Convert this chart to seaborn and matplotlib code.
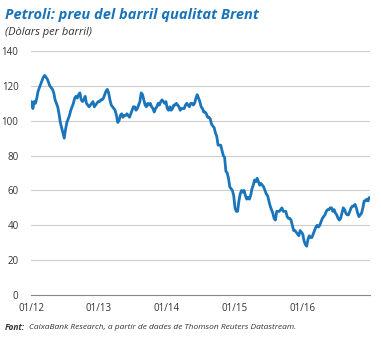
import pandas as pd
import matplotlib
matplotlib.use("Agg")
import matplotlib.pyplot as plt
import matplotlib.dates as mdates
import seaborn as sns

# Weekly Brent price (USD per barrel)
p2012 = [111, 107, 111, 110, 113, 117, 119, 121, 123, 125, 126, 125, 124,
         122, 120, 119, 118, 116, 112, 110, 108, 104, 99, 96, 93, 90,
         95, 99, 101, 103, 106, 108, 110, 113, 114, 113, 115, 116, 112,
         111, 112, 114, 110, 109, 108, 109, 110, 111, 108, 109, 110, 111]
p2013 = [111, 112, 112, 113, 115, 117, 118, 116, 112, 109, 108, 107, 106,
         103, 99, 100, 103, 104, 102, 103, 103, 104, 103, 102, 104, 106,
         108, 108, 106, 107, 109, 111, 116, 115, 112, 109, 108, 110, 109,
         110, 108, 107, 105, 107, 108, 110, 109, 111, 112, 111, 110, 111]
p2014 = [107, 106, 108, 106, 107, 109, 109, 110, 109, 108, 106, 107, 107,
         107, 109, 110, 109, 108, 110, 110, 109, 110, 113, 115, 113, 111,
         108, 107, 105, 105, 104, 102, 102, 101, 98, 97, 96, 93, 91,
         86, 86, 86, 83, 80, 79, 71, 70, 67, 62, 61, 60, 57]
p2015 = [50, 48, 48, 54, 58, 60, 59, 60, 57, 55, 56, 55, 57,
         61, 63, 66, 65, 67, 65, 63, 64, 63, 62, 60, 58, 57,
         54, 51, 49, 47, 44, 43, 48, 48, 48, 49, 50, 48, 48,
         48, 45, 44, 44, 43, 40, 37, 37, 36, 35, 34, 37, 36]
p2016 = [35, 31, 29, 28, 32, 34, 33, 33, 35, 37, 39, 40, 39,
         40, 42, 44, 45, 46, 48, 49, 49, 50, 50, 48, 49, 47,
         46, 44, 43, 44, 47, 50, 49, 47, 46, 46, 48, 50, 51,
         51, 52, 50, 47, 45, 46, 47, 50, 54, 54, 55, 54, 56]

year_values = {2012: p2012, 2013: p2013, 2014: p2014, 2015: p2015, 2016: p2016}
tick_years = [2012, 2013, 2014, 2015, 2016]
tick_labels = ["01/12", "01/13", "01/14", "01/15", "01/16"]
y_ticks = [0, 20, 40, 60, 80, 100, 120, 140]

frames = []
for yr, vals in year_values.items():
    dates = pd.date_range(f"{yr}-01-04", f"{yr}-12-28", periods=len(vals))
    frames.append(pd.DataFrame({"date": dates, "price": vals}))
df = pd.concat(frames, ignore_index=True)

sns.set_style("white")
plt.rcParams["font.family"] = ["Open Sans", "DejaVu Sans"]

fig = plt.figure(figsize=(3.81, 3.38), dpi=100)
ax = fig.add_axes([0.0814, 0.1272, 0.8896, 0.7218])

blue = "#1b75bb"
sns.lineplot(data=df, x="date", y="price", ax=ax, color=blue, linewidth=2.0)

ax.set_ylim(0, 140)
ax.set_xlim(pd.Timestamp("2012-01-01"), pd.Timestamp("2016-12-31"))
ax.set_yticks(y_ticks)
ax.set_yticklabels([str(v) for v in y_ticks], fontsize=7, color="#333333")
ax.set_xticks([pd.Timestamp(f"{y}-01-01") for y in tick_years])
ax.set_xticklabels(tick_labels, fontsize=7, color="#333333")
ax.set_xlabel("")
ax.set_ylabel("")

for v in y_ticks[1:]:
    ax.axhline(v, color="#cccccc", linewidth=0.8, zorder=0)

for s in ["top", "right", "left"]:
    ax.spines[s].set_visible(False)
ax.spines["bottom"].set_color("#888888")
ax.spines["bottom"].set_linewidth(0.8)
ax.tick_params(axis="y", length=0, pad=9)
ax.tick_params(axis="x", length=3, width=0.8, color="#888888", pad=3, direction="out")

fig.text(0.013, 0.955, "Petroli: preu del barril qualitat Brent", fontsize=10.5,
         fontweight="bold", fontstyle="italic", color="#1a73b8", va="center")
fig.text(0.013, 0.905, "(Dòlars per barril)", fontsize=8, fontstyle="italic",
         color="#333333", va="center")
fig.text(0.013, 0.030, "Font:", fontsize=6, fontweight="bold", fontstyle="italic",
         color="#333333", va="center")
fig.text(0.075, 0.030, "CaixaBank Research, a partir de dades de Thomson Reuters Datastream.",
         fontsize=6, fontstyle="italic", color="#333333", va="center")

fig.savefig("out.png", dpi=100)
